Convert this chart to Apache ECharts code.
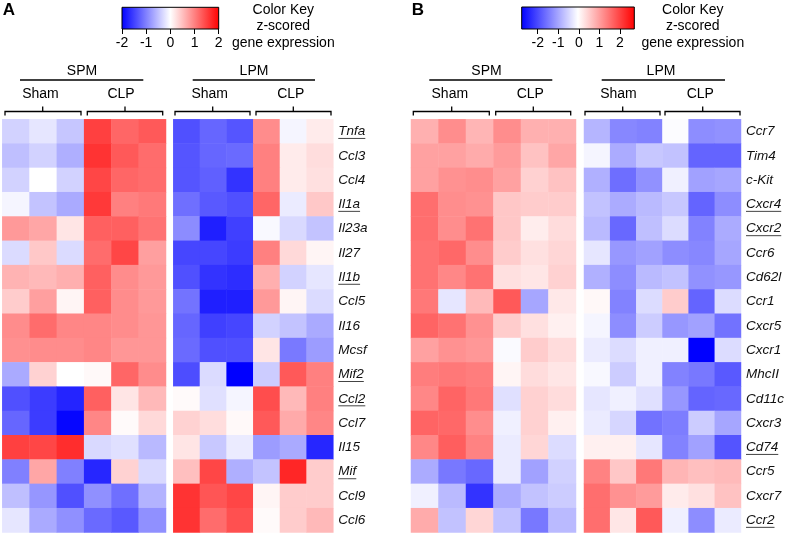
<!DOCTYPE html>
<html><head><meta charset="utf-8">
<script src="https://cdn.jsdelivr.net/npm/echarts@6/dist/echarts.min.js"></script>
<style>html,body{margin:0;padding:0;background:#fff}#c{width:787px;height:541px}</style>
</head><body><div id="c"></div>
<script>
// ---------------- DATA ----------------
const samples = ['Sham 1','Sham 2','Sham 3','CLP 1','CLP 2','CLP 3'];
const genesA = ['Tnfa','Ccl3','Ccl4','Il1a','Il23a','Il27','Il1b','Ccl5','Il16','Mcsf','Mif2','Ccl2','Ccl7','Il15','Mif','Ccl9','Ccl6'];
const genesB = ['Ccr7','Tim4','c-Kit','Cxcr4','Cxcr2','Ccr6','Cd62l','Ccr1','Cxcr5','Cxcr1','MhcII','Cd11c','Cxcr3','Cd74','Ccr5','Cxcr7','Ccr2'];
const underlinedA = ['Tnfa','Il1a','Il1b','Mif2','Ccl2','Mif'];
const underlinedB = ['Cxcr4','Cxcr2','Cd74','Ccr2'];
const keyTicks = [-2,-1,0,1,2];
const keyRangeA = [-2, 2];
const keyRangeB = [-2.74, 2.74];

// z-scored expression, rows = genes, columns = samples
const spmA = [
 [-0.35,-0.2,-0.45,1.5,1.2,1.3],
 [-0.5,-0.35,-0.63,1.6,1.3,1.15],
 [-0.35,0,-0.35,1.45,1.2,1.15],
 [-0.08,-0.47,-0.67,1.55,1.0,1.05],
 [0.8,0.7,0.2,1.25,1.25,1.1],
 [-0.28,0.43,-0.28,1.15,1.45,0.75],
 [0.6,0.55,0.63,1.25,0.9,0.8],
 [0.4,0.75,0.08,1.25,0.9,0.8],
 [0.9,1.15,0.95,0.95,0.9,0.82],
 [0.87,0.9,0.9,0.95,0.82,0.82],
 [-0.67,0.35,0,0.05,1.2,0.9],
 [-1.37,-1.53,-1.72,1.25,0.2,0.55],
 [-1.2,-1.53,-1.95,0.95,0.04,0.3],
 [1.5,1.45,1.65,-0.3,-0.24,-0.55],
 [-1.0,0.7,-1.0,-1.7,0.35,-0.3],
 [-0.5,-0.82,-1.37,-0.87,-1.13,-0.6],
 [-0.2,-0.67,-0.87,-1.17,-1.3,-0.87]
];
const lpmA = [
 [-1.37,-1.2,-1.33,0.9,-0.08,0.16],
 [-1.33,-1.2,-1.17,1.0,0.16,0.27],
 [-1.33,-1.25,-1.6,1.0,0.16,0.24],
 [-1.13,-1.3,-1.37,1.2,-0.16,0.43],
 [-0.9,-1.76,-1.5,-0.05,-0.3,-0.47],
 [-1.45,-1.45,-1.53,1.0,0.3,0.08],
 [-1.37,-1.6,-1.65,0.63,-0.35,-0.2],
 [-1.1,-1.76,-1.76,0.8,0.08,-0.28],
 [-1.2,-1.5,-1.45,-0.35,-0.47,-0.67],
 [-1.17,-1.37,-1.37,0.2,-1.05,-0.78],
 [-1.4,-0.28,-2.0,-0.4,1.3,1.0],
 [0.04,-0.24,-0.08,1.4,0.55,1.0],
 [0.35,0.27,0.05,1.3,0.67,0.95],
 [0.2,-0.43,-0.16,-0.78,-0.67,-1.7],
 [0.5,1.45,-0.63,-0.47,1.7,0.4],
 [1.6,1.33,1.45,0.08,0.4,0.4],
 [1.6,1.15,1.37,0.04,0.4,0.55]
];
const spmB = [
 [0.85,1.23,0.79,1.23,0.85,0.85],
 [1.01,1.01,0.9,1.07,0.66,0.96],
 [1.01,1.18,1.23,1.01,0.49,0.66],
 [1.56,1.23,1.18,0.6,0.55,0.55],
 [1.56,1.23,1.51,0.6,0.19,0.38],
 [1.51,1.62,1.23,0.55,0.33,0.44],
 [1.51,1.29,1.51,0.33,0.27,0.49],
 [1.45,-0.27,0.74,1.78,-0.96,0.25],
 [1.67,1.51,1.18,0.55,0.33,0.16],
 [1.01,1.18,1.12,-0.05,0.55,0.38],
 [1.4,1.45,1.4,0.11,0.38,0.27],
 [1.29,1.67,1.45,-0.33,0.49,0.38],
 [1.67,1.62,1.23,-0.16,0.49,0.16],
 [1.29,1.73,1.34,-0.22,0.44,-0.38],
 [-0.9,-1.45,-1.62,-0.22,-1.01,-0.49],
 [-0.16,-0.74,-2.19,-0.9,-0.66,-0.55],
 [0.9,-0.66,0.44,-0.66,-1.45,-0.74]
];
const lpmB = [
 [-0.79,-1.29,-1.34,-0.03,-1.23,-1.18],
 [-0.11,-0.9,-0.6,-0.66,-1.67,-1.67],
 [-0.85,-1.56,-1.18,-0.16,-1.01,-0.96],
 [-0.66,-0.9,-0.74,-0.6,-1.67,-1.23],
 [-0.74,-1.62,-0.69,-0.38,-1.34,-0.9],
 [-0.27,-1.12,-1.01,-1.23,-1.29,-0.96],
 [-0.85,-1.23,-0.74,-0.66,-1.18,-1.12],
 [0.08,-1.34,-0.38,0.55,-1.67,-0.38],
 [-0.11,-1.23,-0.55,-1.12,-1.01,-1.51],
 [-0.22,-0.38,-0.16,-0.16,-2.74,-0.38],
 [-0.08,-0.55,-0.16,-1.34,-1.45,-1.78],
 [-0.27,-0.16,-0.33,-1.12,-1.67,-1.62],
 [-0.22,-0.44,-1.51,-1.4,-0.55,-0.96],
 [0.16,0.16,-0.27,-1.34,-1.01,-1.84],
 [1.34,0.6,1.45,0.79,0.69,0.74],
 [1.56,1.18,1.07,0.22,0.33,0.66],
 [1.56,0.27,1.78,-0.16,-1.23,-0.22]
];

// ---------------- CHART ----------------
const FONT = '"Liberation Sans", Arial, Helvetica, sans-serif';
const cmap = ['#0000ff', '#ffffff', '#ff0000'];
function triplets(m) {
  const out = [];
  m.forEach((row, r) => row.forEach((v, c) => out.push([c, r, v])));
  return out;
}
const TOP = 119.3, H = 413.2;
const grids = [
  {left: 2.3, top: TOP, width: 163.7, height: H},
  {left: 173.3, top: TOP, width: 160, height: H},
  {left: 411, top: TOP, width: 165, height: H},
  {left: 584, top: TOP, width: 157, height: H},
  {left: 122, top: 7.3, width: 96.7, height: 21.7},   // key A
  {left: 537.7, top: 7, width: 82.3, height: 22}      // key B (-2..2 part)
];
const xAxes = [], yAxes = [];
for (let i = 0; i < 4; i++) {
  xAxes.push({type: 'category', gridIndex: i, data: samples, show: false});
  const genes = i < 2 ? genesA : genesB;
  const isRight = (i % 2 === 1);
  yAxes.push({
    type: 'category', gridIndex: i, data: genes, inverse: true,
    position: 'right', show: isRight,
    axisLine: {show: false}, axisTick: {show: false}, splitLine: {show: false},
    axisLabel: {show: isRight, margin: 5, fontSize: 13.5, fontStyle: 'italic',
      fontFamily: FONT, color: '#111'}
  });
}
for (let k = 4; k < 6; k++) {
  xAxes.push({
    type: 'value', gridIndex: k, min: -2, max: 2, interval: 1, position: 'bottom',
    axisLine: {show: false}, splitLine: {show: false},
    axisTick: {show: true, length: 5, lineStyle: {color: '#000', width: 1}},
    axisLabel: {show: true, margin: 7, fontSize: 14, fontFamily: FONT, color: '#000',
      customValues: keyTicks},
  });
  yAxes.push({type: 'value', gridIndex: k, show: false});
}
const mats = [spmA, lpmA, spmB, lpmB];
const series = mats.map((m, i) => ({
  type: 'heatmap', xAxisIndex: i, yAxisIndex: i, data: triplets(m),
  itemStyle: {borderWidth: 0}, emphasis: {disabled: true}, silent: true
}));

const chart = echarts.init(document.getElementById('c'), null, {renderer: 'canvas'});
chart.setOption({
  animation: false,
  backgroundColor: '#fff',
  grid: grids,
  xAxis: xAxes,
  yAxis: yAxes,
  visualMap: [
    {type: 'continuous', show: false, seriesIndex: [0, 1], min: keyRangeA[0], max: keyRangeA[1], inRange: {color: cmap}},
    {type: 'continuous', show: false, seriesIndex: [2, 3], min: keyRangeB[0], max: keyRangeB[1], inRange: {color: cmap}}
  ],
  series: series
});

// ---------------- ANNOTATIONS ----------------
const els = [];
function txt(s, x, y, opts) {
  opts = opts || {};
  els.push({type: 'text', silent: true, z: 10, style: {
    text: s, x: x, y: y, fill: '#000',
    font: (opts.weight || 'normal') + ' ' + (opts.size || 14) + 'px ' + FONT,
    textAlign: 'center', textVerticalAlign: 'middle', align: 'center', verticalAlign: 'middle'
  }});
}
function line(x1, y1, x2, y2, w) {
  els.push({type: 'line', silent: true, z: 10, shape: {x1, y1, x2, y2},
    style: {stroke: '#000', lineWidth: w || 1.3}});
}
function bracket(x1, x2, xc) {
  els.push({type: 'polyline', silent: true, z: 10,
    shape: {points: [[x1, 115.5], [x1, 111.5], [x2, 111.5], [x2, 115.5]]},
    style: {stroke: '#000', lineWidth: 1.3, fill: null}});
  line(xc, 111.5, xc, 106.5, 1.3);
}
function keyBar(x1, x2, y1, y2) {
  els.push({type: 'rect', silent: true, z: 5,
    shape: {x: x1, y: y1, width: x2 - x1, height: y2 - y1},
    style: {stroke: '#000', lineWidth: 1,
      fill: new echarts.graphic.LinearGradient(0, 0, 1, 0,
        [{offset: 0, color: cmap[0]}, {offset: 0.5, color: cmap[1]}, {offset: 1, color: cmap[2]}])}});
}
// panel letters
txt('A', 9, 10, {weight: 'bold', size: 17});
txt('B', 418, 10, {weight: 'bold', size: 17});
// color keys
keyBar(122, 218.7, 7.3, 29);
keyBar(521.7, 634.3, 7, 29);
[[283.3], [692.8]].forEach(([cx]) => {
  txt('Color Key', cx, 10.5);
  txt('z-scored', cx, 26.5);
  txt('gene expression', cx, 42.8);
});
// group headers panel A
txt('SPM', 82, 71); line(20, 80, 143.3, 80);
txt('LPM', 254, 71); line(192.7, 80, 315, 80);
txt('Sham', 40.5, 94.5); txt('CLP', 121, 94.5);
txt('Sham', 209.7, 94.5); txt('CLP', 290.8, 94.5);
bracket(5, 81, 42.7); bracket(87.3, 162.7, 125);
bracket(175, 250, 212.7); bracket(256, 331, 293.3);
// group headers panel B
txt('SPM', 486.5, 71); line(429.3, 80, 552.3, 80);
txt('LPM', 661, 71); line(601.7, 80, 725, 80);
txt('Sham', 449.8, 94.5); txt('CLP', 530.3, 94.5);
txt('Sham', 618.5, 94.5); txt('CLP', 700.3, 94.5);
bracket(413.3, 489.3, 451.7); bracket(495.7, 570.7, 533.3);
bracket(585, 660, 622.7); bracket(665, 740, 702.7);

// underlines for selected gene labels (positions from the axes)
const ctx = document.createElement('canvas').getContext('2d');
ctx.font = 'italic 13.5px ' + FONT;
function underline(list, axisIdx, gridIdx) {
  const g = grids[gridIdx];
  const x0 = g.left + g.width + 5;
  list.forEach(name => {
    const y = chart.convertToPixel({yAxisIndex: axisIdx}, name);
    const w = ctx.measureText(name).width;
    els.push({type: 'line', silent: true, z: 10,
      shape: {x1: x0, y1: y + 7, x2: x0 + w, y2: y + 7},
      style: {stroke: '#444', lineWidth: 1}});
  });
}
underline(underlinedA, 1, 1);
underline(underlinedB, 3, 3);

chart.setOption({graphic: {elements: els}});
</script>
</body></html>
